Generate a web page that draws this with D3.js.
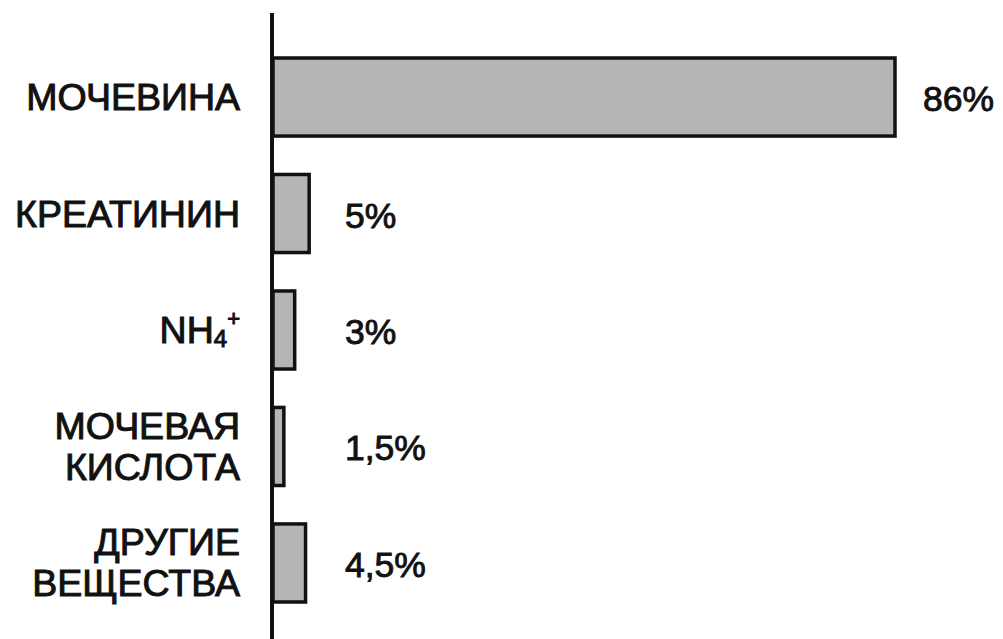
<!DOCTYPE html>
<html>
<head>
<meta charset="utf-8">
<script src="https://cdn.jsdelivr.net/npm/d3@7"></script>
<style>
  html, body { margin: 0; padding: 0; background: #fff; }
  svg { display: block; }
  text { font-family: "Liberation Sans", Arial, sans-serif; fill: #111; }
</style>
</head>
<body>
<script>
// Nitrogen-containing components of urine, share in percent
const categories = ["МОЧЕВИНА", "КРЕАТИНИН", "NH4+", "МОЧЕВАЯ\nКИСЛОТА", "ДРУГИЕ\nВЕЩЕСТВА"];
const values = [86, 5, 3, 1.5, 4.5];

const W = 1003, H = 639;
const svg = d3.select("body").append("svg").attr("width", W).attr("height", H);

const x = d3.scaleLinear().domain([0, 86]).range([273, 895]);
const y = d3.scaleBand().domain(categories).range([58, 602]).paddingInner(0.33).paddingOuter(0);

const ru = d3.formatLocale({ decimal: ",", thousands: " ", grouping: [3], currency: ["", ""] });
const fmt = v => ru.format("~g")(v) + "%";

const data = categories.map((c, i) => ({ cat: c, value: values[i] }));

// bars
svg.append("g").selectAll("rect").data(data).join("rect")
  .attr("x", x(0))
  .attr("y", d => y(d.cat))
  .attr("width", d => x(d.value) - x(0))
  .attr("height", y.bandwidth())
  .attr("fill", "#b5b5b5")
  .attr("stroke", "#111")
  .attr("stroke-width", 3.5);

// category axis line
svg.append("line")
  .attr("x1", x(0) - 1).attr("x2", x(0) - 1)
  .attr("y1", 13).attr("y2", H)
  .attr("stroke", "#111").attr("stroke-width", 4);

// category labels
const fs = 37.5, lineGap = 41;
const labels = svg.append("g").selectAll("text").data(data).join("text")
  .attr("text-anchor", "end")
  .attr("font-size", fs)
  .attr("stroke", "#111").attr("stroke-width", 1)
  .attr("x", 240)
  .attr("y", d => y(d.cat) + y.bandwidth() / 2)
  .attr("dominant-baseline", "central");

labels.each(function (d) {
  const t = d3.select(this);
  if (d.cat === "NH4+") {
    t.append("tspan").text("NH");
    t.append("tspan").attr("font-size", 24).attr("dy", 8).text("4");
    t.append("tspan").attr("font-size", 22).attr("dy", -20).text("+");
    return;
  }
  const lines = d.cat.split("\n");
  lines.forEach((ln, i) => {
    t.append("tspan")
      .attr("x", 240)
      .attr("dy", i === 0 ? -(lines.length - 1) * lineGap / 2 : lineGap)
      .text(ln);
  });
});

// value labels
svg.append("g").selectAll("text").data(data).join("text")
  .attr("font-size", 35.5)
  .attr("stroke", "#111").attr("stroke-width", 0.9)
  .attr("x", d => Math.max(x(d.value) + 28, 345))
  .attr("y", d => y(d.cat) + y.bandwidth() / 2 + 2)
  .attr("dominant-baseline", "central")
  .text(d => fmt(d.value));
</script>
</body>
</html>
